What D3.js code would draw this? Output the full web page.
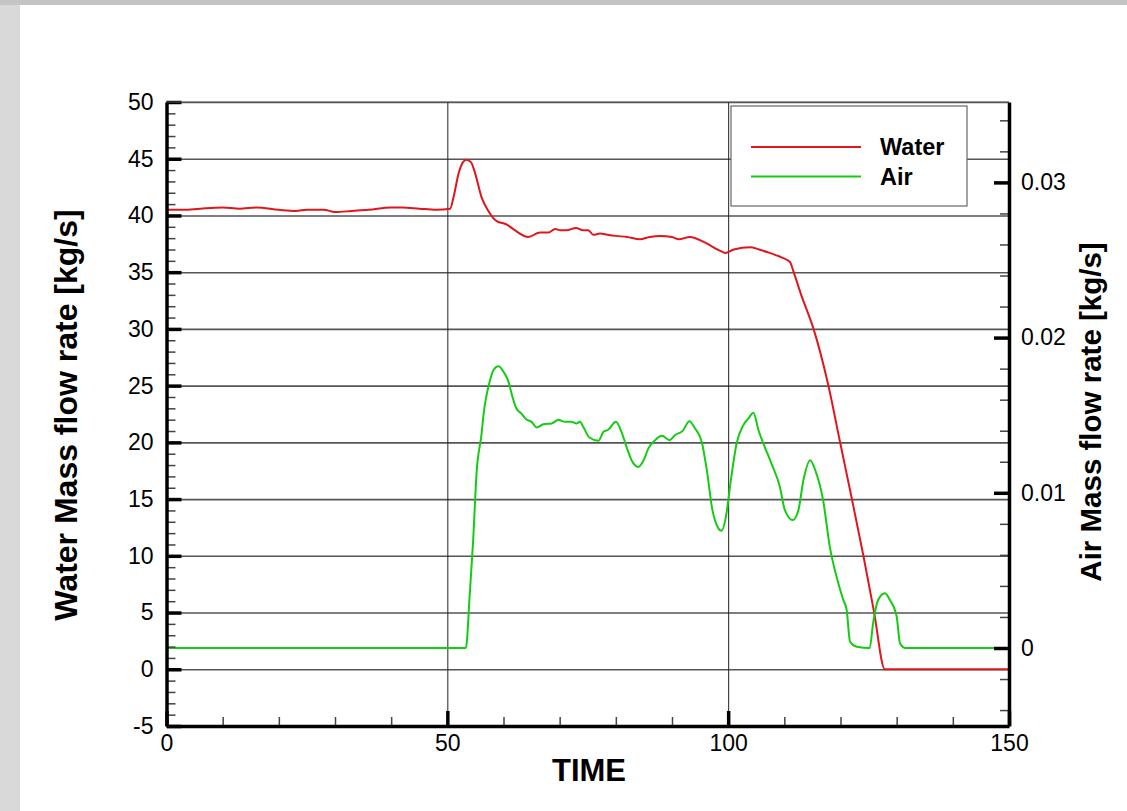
<!DOCTYPE html>
<html>
<head>
<meta charset="utf-8">
<script src="https://cdn.jsdelivr.net/npm/d3@7"></script>
<style>
  html, body { margin: 0; padding: 0; background: #d4d4d4; }
  svg { display: block; font-family: "Liberation Sans", Arial, sans-serif; }
</style>
</head>
<body>
<svg id="chart" width="1127" height="811"></svg>
<script>
// ---- Data ----
const waterTime = [0, 3, 6, 10, 13, 16, 20, 23, 25, 28, 30, 33, 36, 40, 42, 45, 48, 50.5, 51.1, 52.0, 52.8, 53.4, 54.2, 54.9, 56.1, 57.3, 58.8, 60.6, 62.0, 64.4, 66.5, 68.0, 69.2, 70.1, 71.2, 72.9, 74.2, 75.1, 76.0, 77.2, 78.5, 80, 82, 84.3, 86, 87.9, 90, 91.2, 93.2, 95.9, 98.5, 99.5, 101, 103.9, 105.5, 107.4, 109.5, 111, 111.6, 113, 115.2, 117.8, 119.9, 122.0, 124.05, 125.96, 127.9, 135, 142, 150];
const waterValues = [40.5, 40.5, 40.6, 40.7, 40.6, 40.7, 40.5, 40.4, 40.5, 40.5, 40.3, 40.4, 40.5, 40.7, 40.7, 40.6, 40.5, 40.6, 41.6, 43.7, 44.7, 44.9, 44.7, 43.8, 41.6, 40.4, 39.5, 39.2, 38.7, 38.1, 38.5, 38.5, 38.8, 38.7, 38.7, 38.9, 38.7, 38.7, 38.3, 38.4, 38.3, 38.2, 38.1, 37.9, 38.1, 38.2, 38.1, 37.9, 38.1, 37.6, 36.9, 36.7, 37.0, 37.2, 37.0, 36.7, 36.3, 35.9, 35.1, 33.0, 30.0, 25.1, 20.07, 15.07, 10.07, 5.08, 0.0, 0.0, 0.0, 0.0];

const airTime = [0, 10, 20, 30, 40, 50, 53.3, 54.0, 54.6, 55.2, 56.1, 56.4, 57.6, 58.2, 59.1, 60.0, 60.9, 61.5, 62.3, 63.2, 64.1, 65.0, 65.9, 67.1, 68.6, 69.8, 70.9, 72.1, 73.0, 73.6, 74.2, 75.3, 76.9, 77.8, 78.7, 80.0, 81.0, 81.9, 82.8, 84.0, 84.9, 85.8, 87.0, 88.2, 89.6, 90.5, 91.9, 93.1, 94.1, 95.3, 96.2, 97.2, 98.1, 98.8, 99.6, 100.4, 101.5, 102.7, 103.6, 104.5, 105.4, 106.5, 107.7, 109.2, 110.1, 111.5, 112.5, 113.4, 114.6, 115.5, 116.9, 118.1, 119.3, 120.5, 121.1, 121.7, 122.9, 125.2, 125.8, 126.7, 127.9, 128.8, 130.0, 130.6, 131.5, 140, 150];
const airValues = [0, 0, 0, 0, 0, 0, 0, 0.00352, 0.00695, 0.01125, 0.01382, 0.0149, 0.01725, 0.0179, 0.01815, 0.0178, 0.01715, 0.0163, 0.01543, 0.0151, 0.01472, 0.01457, 0.01421, 0.01442, 0.01447, 0.0147, 0.01457, 0.01457, 0.01447, 0.01457, 0.01425, 0.01356, 0.01335, 0.01393, 0.01408, 0.01457, 0.01393, 0.01296, 0.0121, 0.01167, 0.01206, 0.01286, 0.01339, 0.01367, 0.01339, 0.01371, 0.01399, 0.01461, 0.01414, 0.01328, 0.01146, 0.00888, 0.00781, 0.00755, 0.00845, 0.0106, 0.01318, 0.01436, 0.01479, 0.01515, 0.01403, 0.01296, 0.01189, 0.01039, 0.00888, 0.00824, 0.00888, 0.01082, 0.0121, 0.01146, 0.00953, 0.00652, 0.00459, 0.00309, 0.00245, 0.0004, 0.00008, 0, 0.00159, 0.00309, 0.00352, 0.00309, 0.00202, 0.0003, 0, 0, 0];

const xTickLabels = [0, 50, 100, 150];
const leftTickLabels = [-5, 0, 5, 10, 15, 20, 25, 30, 35, 40, 45, 50];
const rightTickLabels = [0, 0.01, 0.02, 0.03];
const seriesNames = ["Water", "Air"];

// ---- Layout ----
const svg = d3.select("#chart");
const L = 166.5, R = 1009, T = 102, B = 726;
const W = R - L, H = B - T;

// background panel
svg.append("rect").attr("x", 0).attr("y", 0).attr("width", 1127).attr("height", 811).attr("fill", "#d9d9d9");
svg.append("rect").attr("x", 0).attr("y", 0).attr("width", 1127).attr("height", 5).attr("fill", "#c4c4c4");
svg.append("rect").attr("x", 20).attr("y", 5).attr("width", 1107).attr("height", 806).attr("fill", "#ffffff");

const x = d3.scaleLinear().domain([0, 150]).range([L, R]);
const yL = d3.scaleLinear().domain([-5, 50]).range([B, T]);
const yR = d3.scaleLinear().domain([-0.005026, 0.03518]).range([B, T]);

const g = svg.append("g");
const fontFam = "Liberation Sans, Arial, sans-serif";

// horizontal grid
g.append("g").attr("transform", `translate(${L},0)`)
  .call(d3.axisLeft(yL).tickValues(leftTickLabels.filter(v => v > -5)).tickSize(-W).tickFormat(""))
  .call(s => s.select(".domain").remove())
  .call(s => s.selectAll("line").attr("stroke", "#555").attr("stroke-width", 1.6));
// vertical grid
g.append("g").attr("transform", `translate(0,${B})`)
  .call(d3.axisBottom(x).tickValues([50, 100]).tickSize(-H).tickFormat(""))
  .call(s => s.select(".domain").remove())
  .call(s => s.selectAll("line").attr("stroke", "#222").attr("stroke-width", 1));

// Lines
const lineW = d3.line().x((d, i) => x(waterTime[i])).y(d => yL(d)).curve(d3.curveMonotoneX);
const lineA = d3.line().x((d, i) => x(airTime[i])).y(d => yR(d)).curve(d3.curveMonotoneX);
g.append("path").datum(waterValues).attr("d", lineW).attr("fill", "none").attr("stroke", "#e0161c").attr("stroke-width", 2);
g.append("path").datum(airValues).attr("d", lineA).attr("fill", "none").attr("stroke", "#14cc14").attr("stroke-width", 2);

// Legend
const lg = g.append("g");
lg.append("rect").attr("x", 731).attr("y", 106).attr("width", 236).attr("height", 100)
  .attr("fill", "#fff").attr("stroke", "#666").attr("stroke-width", 1.2);
const legColors = ["#e0161c", "#14cc14"];
const legY = [147, 176.5];
seriesNames.forEach((n, i) => {
  lg.append("line").attr("x1", 751).attr("x2", 861).attr("y1", legY[i]).attr("y2", legY[i])
    .attr("stroke", legColors[i]).attr("stroke-width", 2);
  lg.append("text").attr("x", 880).attr("y", legY[i] + 8).text(n)
    .attr("font-size", 23.5).attr("font-weight", "bold").attr("fill", "#000");
});

// Axes
const fs = 23;
const styleText = s => s.selectAll("text").attr("font-size", fs).attr("fill", "#000").attr("font-family", fontFam);
// left minor
g.append("g").attr("transform", `translate(${L},0)`)
  .call(d3.axisLeft(yL).tickValues(d3.range(-5, 51, 1)).tickSize(-9).tickFormat(""))
  .call(s => s.select(".domain").remove())
  .call(s => s.selectAll("line").attr("stroke", "#444").attr("stroke-width", 1.5));
// left major
g.append("g").attr("transform", `translate(${L},0)`)
  .call(d3.axisLeft(yL).tickValues(leftTickLabels).tickSize(-15).tickPadding(13).tickSizeOuter(0).tickFormat(d => String(d)))
  .call(s => s.select(".domain").attr("stroke", "#000").attr("stroke-width", 3.5))
  .call(s => s.selectAll("line").attr("stroke", "#000").attr("stroke-width", 3.5))
  .call(styleText);

// right minor
g.append("g").attr("transform", `translate(${R},0)`)
  .call(d3.axisRight(yR).tickValues(d3.range(-0.004, 0.0351, 0.002)).tickSize(-9).tickFormat(""))
  .call(s => s.select(".domain").remove())
  .call(s => s.selectAll("line").attr("stroke", "#444").attr("stroke-width", 1.5));
// right major
g.append("g").attr("transform", `translate(${R},0)`)
  .call(d3.axisRight(yR).tickValues(rightTickLabels).tickSize(-15).tickPadding(12).tickSizeOuter(0).tickFormat(d => d === 0 ? "0" : d3.format(".2f")(d)))
  .call(s => s.select(".domain").attr("stroke", "#000").attr("stroke-width", 3.5))
  .call(s => s.selectAll("line").attr("stroke", "#000").attr("stroke-width", 3.5))
  .call(styleText);

// bottom minor
g.append("g").attr("transform", `translate(0,${B})`)
  .call(d3.axisBottom(x).tickValues(d3.range(10, 150, 10)).tickSize(-9).tickFormat(""))
  .call(s => s.select(".domain").remove())
  .call(s => s.selectAll("line").attr("stroke", "#444").attr("stroke-width", 1.5));
// bottom major
g.append("g").attr("transform", `translate(0,${B})`)
  .call(d3.axisBottom(x).tickValues(xTickLabels).tickSize(-15).tickPadding(9).tickSizeOuter(0).tickFormat(d => String(d)))
  .call(s => s.select(".domain").attr("stroke", "#000").attr("stroke-width", 3.5))
  .call(s => s.selectAll("line").attr("stroke", "#000").attr("stroke-width", 3.5))
  .call(styleText);

// top thin line
g.append("line").attr("x1", L).attr("x2", R).attr("y1", T).attr("y2", T).attr("stroke", "#555").attr("stroke-width", 1.2);

// Titles
svg.append("text").attr("x", 589).attr("y", 781).attr("text-anchor", "middle")
  .attr("font-size", 31).attr("font-weight", "bold").text("TIME");
svg.append("text").attr("transform", "translate(77,415) rotate(-90)").attr("text-anchor", "middle")
  .attr("font-size", 32).attr("font-weight", "bold").text("Water Mass flow rate [kg/s]");
svg.append("text").attr("transform", "translate(1101,412) rotate(-90)").attr("text-anchor", "middle")
  .attr("font-size", 29.5).attr("font-weight", "bold").text("Air Mass flow rate [kg/s]");
</script>
</body>
</html>
